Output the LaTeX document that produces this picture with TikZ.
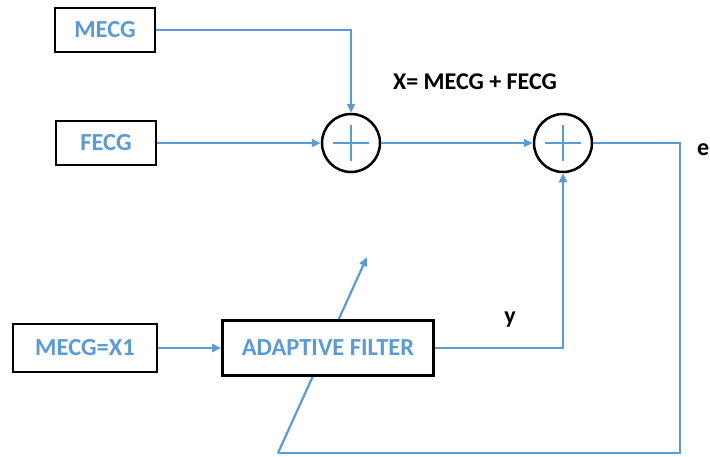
\documentclass[tikz,border=0pt]{standalone}
\usepackage{fontspec}
\setmainfont{Carlito}
\usepackage{tikz}
\usetikzlibrary{arrows.meta,positioning,calc,backgrounds}
\definecolor{sigblue}{HTML}{5B9BD5}
\tikzset{
  >={Triangle[length=9pt,width=8pt]},
  % block och summator
  blk/.style={draw=black,fill=white,line width=2.6pt,inner sep=0pt,
              font=\fontsize{24.5}{28}\selectfont\bfseries,text=sigblue},
  sumn/.style={circle,draw=black,fill=white,line width=2.5pt,inner sep=0pt,
               minimum size=58pt,
               path picture={\draw[sigblue,line width=2pt]
                 ($(path picture bounding box.center)+(-18pt,0pt)$) --
                 ($(path picture bounding box.center)+(18pt,0pt)$)
                 ($(path picture bounding box.center)+(0pt,-18pt)$) --
                 ($(path picture bounding box.center)+(0pt,18pt)$);}},
  sig/.style={draw=sigblue,line width=2.2pt},
  lbl/.style={font=\fontsize{24}{28}\selectfont\bfseries,text=black,inner sep=0pt},
}
\begin{document}
\begin{tikzpicture}[x=1pt,y=-1pt]
\useasboundingbox (0,0) rectangle (710,456);
  \node[blk,minimum width=100pt,minimum height=44pt] (mecg) at (105,30) {MECG};
  \node[blk,minimum width=100pt,minimum height=44pt] (fecg) at (106,143) {FECG};
  \node[sumn] (s1) at (351,143) {};
  \node[sumn] (s2) at (563,143) {};
  \node[blk,minimum width=144pt,minimum height=48pt] (mx1) at (85,348) {MECG=X1};
  \node[blk,minimum width=211pt,minimum height=55pt] (af) at (328,348) {ADAPTIVE FILTER};
  \node[lbl] (xsum) at (475,82) {X= MECG + FECG};
  \node[lbl] (ylbl) at (510,320) {y};
  \node[lbl,anchor=west] (elbl) at (697,150) {e};
  % felsignal tillbaka
  \coordinate (fbr) at (680,453);
  \coordinate (fbl) at (278,453);
  \coordinate (tip) at (367,257);
  \begin{scope}[on background layer]
    \draw[sig,->] (fbl) -- (tip);
  \end{scope}
  \draw[sig,->] (mecg.east) -| (s1.north);
  \draw[sig,->] (fecg.east) -- (s1.west);
  \draw[sig,->] (s1.east) -- (s2.west);
  \draw[sig] (s2.east) -| (fbr) -- (fbl);
  \draw[sig,->] (mx1.east) -- (af.west);
  \draw[sig,->] (af.east) -| (s2.south);
\end{tikzpicture}
\end{document}
